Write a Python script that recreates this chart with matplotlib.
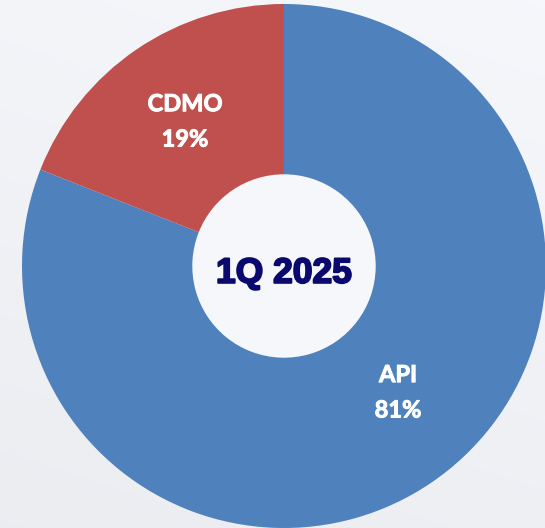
import numpy as np
import matplotlib
matplotlib.use("Agg")
import matplotlib.pyplot as plt
import matplotlib.patheffects as pe

categories = ["API", "CDMO"]
values = [81, 19]
pct_labels = ["81%", "19%"]
center_title = "1Q 2025"
colors = ["#4F81BD", "#C0504D"]

W, H = 545, 528
fig = plt.figure(figsize=(W / 100, H / 100), dpi=100)

# subtle background
bg = fig.add_axes([0, 0, 1, 1])
yy, xx = np.mgrid[0:1:200j, 0:1:200j]
grad = 0.965 - 0.03 * yy + 0.01 * xx
img = np.dstack([grad - 0.012, grad - 0.006, grad + 0.01])
bg.imshow(np.clip(img, 0, 1), extent=[0, 1, 0, 1], aspect="auto")
bg.set_axis_off()

cx, cy, R = 284, 266, 262
ax = fig.add_axes([(cx - R) / W, (H - cy - R) / H, 2 * R / W, 2 * R / H])
wedges, _ = ax.pie(values, colors=colors, startangle=90, counterclock=False,
                   radius=1.0, wedgeprops=dict(width=0.65, linewidth=0))
ax.set_xlim(-1, 1)
ax.set_ylim(-1, 1)
ax.set_aspect("equal")
ax.set_axis_off()

# inner hole tint
hole = plt.Circle((0, 0), 0.35, color="#F6F7FB", zorder=0)
ax.add_patch(hole)

font = ["Lato", "DejaVu Sans"]
label_pos = {"API": (0.435, -0.482), "CDMO": (-0.378, 0.552)}
for cat, pct in zip(categories, pct_labels):
    x, y = label_pos[cat]
    ax.text(x, y, f"{cat}\n{pct}", ha="center", va="center", color="white",
            fontsize=17, fontweight="bold", family=font, linespacing=1.65,
            path_effects=[pe.withStroke(linewidth=0.7, foreground="white")])

ax.text(0, -0.028, center_title, ha="center", va="center", color="#0A0A6E",
        fontsize=25.5, fontweight="bold", family=["Liberation Sans", "DejaVu Sans"],
        path_effects=[pe.withStroke(linewidth=1.4, foreground="#0A0A6E")])

fig.savefig("out.png", dpi=100)
